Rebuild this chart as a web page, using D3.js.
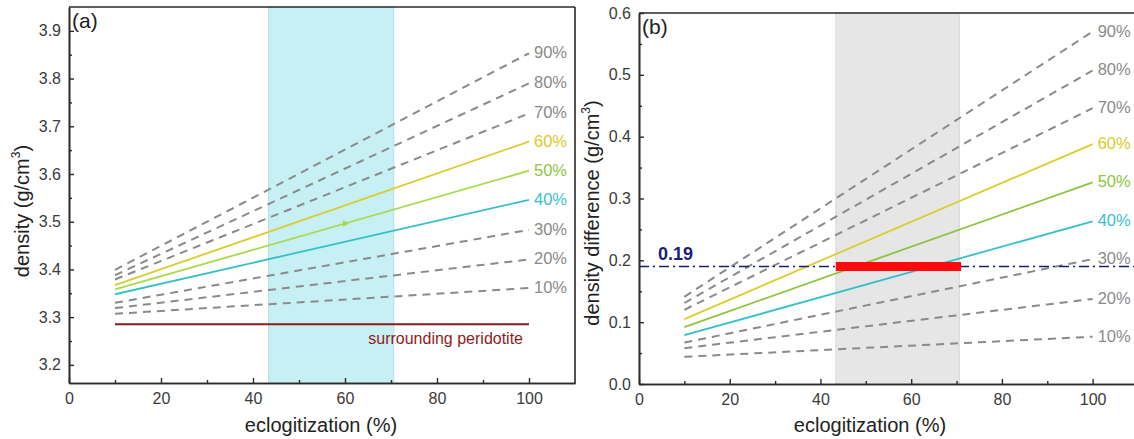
<!DOCTYPE html>
<html>
<head>
<meta charset="utf-8">
<script src="https://cdn.jsdelivr.net/npm/d3@7"></script>
<style>
body{margin:0;background:#fff;font-family:"Liberation Sans",Arial,sans-serif}
</style>
</head>
<body>
<div id="container"></div>
<script>
// eclogite fraction levels and values
var levels = ["10%","20%","30%","40%","50%","60%","70%","80%","90%"]
var eclog = [10,100]
var densityStart = [3.307,3.319,3.330,3.348,3.358,3.367,3.379,3.388,3.399]
var densityEnd = [3.361,3.421,3.483,3.546,3.607,3.668,3.727,3.790,3.853]
var diffStart = [0.044,0.058,0.067,0.079,0.092,0.105,0.120,0.131,0.141]
var diffEnd = [0.0765,0.1375,0.202,0.263,0.326,0.388,0.446,0.507,0.570]
var peridotite = [3.285,3.285]
var bandRange = [43.4,70.6]
var threshold = 0.19
var redBar = [43.4,71]
var markerA = [60]

var xTicks = [0,20,40,60,80,100]
var xMinor = [10,30,50,70,90]
var yTicksA = [3.2,3.3,3.4,3.5,3.6,3.7,3.8,3.9]
var yMinorA = [3.25,3.35,3.45,3.55,3.65,3.75,3.85]
var yTicksB = [0,0.1,0.2,0.3,0.4,0.5,0.6]
var yMinorB = [0.05,0.15,0.25,0.35,0.45,0.55]

var w = 1134
var h = 439
var solidA = {"40%":"#35c0c8","50%":"#a9da4a","60%":"#dacd2c"}
var solidB = {"40%":"#35c0c8","50%":"#8cc43c","60%":"#dacd2c"}
var labelCol = {"40%":"#3cbfcc","50%":"#8dc63f","60%":"#d9cb2a"}
var grey = "#8a8a8a"

var svg = d3.select("#container").append("svg").attr("width",w).attr("height",h)
    .style("font-family","'Liberation Sans',Arial,sans-serif")

function drawPanel(opt){
    var x = d3.scaleLinear().domain([0,110]).range(opt.xr)
    var y = d3.scaleLinear().domain(opt.yd).range(opt.yr)
    var g = svg.append("g")

    // shaded band
    g.append("rect")
        .attr("x",x(bandRange[0])).attr("width",x(bandRange[1])-x(bandRange[0]))
        .attr("y",opt.yr[1]).attr("height",opt.yr[0]-opt.yr[1])
        .attr("fill",opt.band).attr("stroke",opt.bandEdge).attr("stroke-width",1)

    // lines
    var line = d3.line().x(function(d){return x(d[0])}).y(function(d){return y(d[1])})
    for(var i in levels){
        var lv = levels[i]
        var pts = [[eclog[0],opt.start[i]],[eclog[1],opt.end[i]]]
        var col = opt.solid[lv]
        g.append("path").attr("d",line(pts))
            .attr("fill","none")
            .attr("stroke",col ? col : grey)
            .attr("stroke-width",col ? 1.8 : 2)
            .attr("stroke-dasharray",col ? null : "8,6")
        g.append("text").text(lv)
            .attr("x",x(eclog[1])+5).attr("y",y(opt.end[i]))
            .attr("dy","0.3em")
            .attr("font-size",16.5)
            .attr("fill",labelCol[lv] ? labelCol[lv] : grey)
    }

    // axes
    var xAxis = d3.axisBottom(x).tickValues(xTicks).tickSizeInner(-5).tickSizeOuter(0).tickPadding(10)
        .tickFormat(d3.format("d"))
    var xAxisMinor = d3.axisBottom(x).tickValues(xMinor).tickSizeInner(-3).tickSizeOuter(0).tickFormat("")
    var yAxis = d3.axisLeft(y).tickValues(opt.yTicks).tickSizeInner(-5).tickSizeOuter(0).tickPadding(8)
        .tickFormat(d3.format(".1f"))
    var yAxisMinor = d3.axisLeft(y).tickValues(opt.yMinor).tickSizeInner(-3).tickSizeOuter(0).tickFormat("")

    var axes = [
        g.append("g").attr("transform","translate(0,"+opt.yr[0]+")").call(xAxis),
        g.append("g").attr("transform","translate(0,"+opt.yr[0]+")").call(xAxisMinor),
        g.append("g").attr("transform","translate("+opt.xr[0]+",0)").call(yAxis),
        g.append("g").attr("transform","translate("+opt.xr[0]+",0)").call(yAxisMinor)
    ]
    axes.forEach(function(a){
        a.selectAll("path").attr("stroke","#2a2a2a").attr("stroke-width",1.6)
        a.selectAll("line").attr("stroke","#2a2a2a").attr("stroke-width",1.4)
        a.selectAll("text").attr("font-size",16).attr("fill","#3a3a3a")
            .style("font-family","'Liberation Sans',Arial,sans-serif")
    })

    // top and right frame
    g.append("line").attr("x1",opt.xr[0]).attr("x2",opt.xr[1]).attr("y1",opt.yr[1]).attr("y2",opt.yr[1])
        .attr("stroke","#2a2a2a").attr("stroke-width",1.6)
    g.append("line").attr("x1",opt.xr[1]).attr("x2",opt.xr[1]).attr("y1",opt.yr[1]).attr("y2",opt.yr[0])
        .attr("stroke","#2a2a2a").attr("stroke-width",1.6)

    // panel tag
    g.append("text").text(opt.tag).attr("x",opt.xr[0]+3).attr("y",opt.yr[1]+21)
        .attr("font-size",21).attr("fill","#222")

    // axis titles
    g.append("text").text("eclogitization (%)")
        .attr("x",opt.xTitleX).attr("y",432).attr("text-anchor","middle")
        .attr("font-size",20).attr("fill","#222")
    var yt = g.append("text")
        .attr("transform","translate("+opt.yTitleX+","+opt.yTitleY+") rotate(-90)")
        .attr("text-anchor","middle").attr("font-size",20).attr("fill","#222")
    yt.append("tspan").text(opt.yTitle+" (g/cm")
    yt.append("tspan").text("3").attr("font-size",12).attr("dy","-0.75em")
    yt.append("tspan").text(")").attr("dy","0.45em")

    return {g:g,x:x,y:y}
}

// panel (a)
var pa = drawPanel({
    xr:[69,575], yr:[383,7], yd:[3.162,3.95],
    start:densityStart, end:densityEnd, solid:solidA,
    band:"#c6f0f3", bandEdge:"#b5dfe3",
    yTicks:yTicksA, yMinor:yMinorA, tag:"(a)",
    xTitleX:321, yTitleX:29, yTitleY:211, yTitle:"density"
})

pa.g.append("path")
    .attr("d",d3.line().x(function(d){return pa.x(d[0])}).y(function(d){return pa.y(d[1])})([[eclog[0],peridotite[0]],[eclog[1],peridotite[1]]]))
    .attr("stroke","#8e1b1b").attr("stroke-width",2).attr("fill","none")
pa.g.append("text").text("surrounding peridotite")
    .attr("x",pa.x(98.7)).attr("y",pa.y(peridotite[0])+20)
    .attr("text-anchor","end").attr("font-size",16).attr("fill","#8e1b1b")

// small marker on the 50% line
markerA.forEach(function(mx){
    var my = densityStart[4]+(densityEnd[4]-densityStart[4])*(mx-eclog[0])/(eclog[1]-eclog[0])
    pa.g.append("path")
        .attr("d",d3.symbol().type(d3.symbolTriangle).size(22)())
        .attr("transform","translate("+pa.x(mx)+","+pa.y(my)+") rotate(90)")
        .attr("fill","#a9da4a")
})

// panel (b)
var pb = drawPanel({
    xr:[639,1138], yr:[384,13], yd:[0,0.6],
    start:diffStart, end:diffEnd, solid:solidB,
    band:"#e6e6e6", bandEdge:"#d6d6d6",
    yTicks:yTicksB, yMinor:yMinorB, tag:"(b)",
    xTitleX:870, yTitleX:599, yTitleY:213, yTitle:"density difference"
})

pb.g.append("line")
    .attr("x1",pb.x(0)).attr("x2",pb.x(110))
    .attr("y1",pb.y(threshold)).attr("y2",pb.y(threshold))
    .attr("stroke","#1b1b7c").attr("stroke-width",1.6)
    .attr("stroke-dasharray","10,4,2,4")
pb.g.append("text").text("0.19")
    .attr("x",pb.x(4.2)).attr("y",pb.y(threshold)-7)
    .attr("font-size",18).attr("font-weight","bold").attr("fill","#1b1b7c")
pb.g.append("rect")
    .attr("x",pb.x(redBar[0])).attr("width",pb.x(redBar[1])-pb.x(redBar[0]))
    .attr("y",pb.y(threshold)-4.5).attr("height",9)
    .attr("fill","#ff0a0a")
</script>
</body>
</html>
